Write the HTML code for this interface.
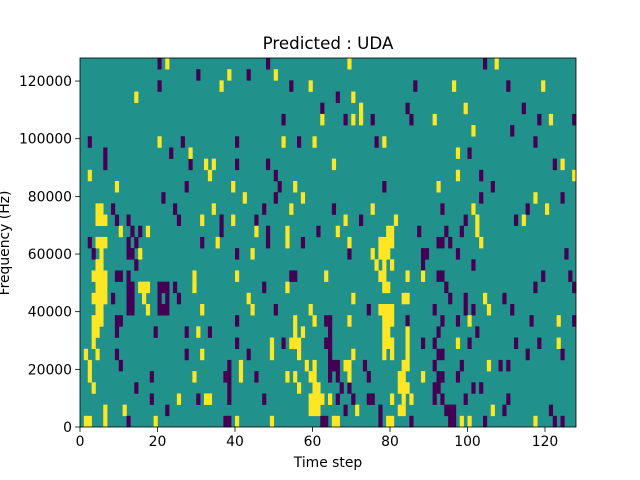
<!DOCTYPE html>
<html><head><meta charset="utf-8"><style>body{margin:0;background:#fff}svg{display:block;font-family:"DejaVu Sans","Liberation Sans",sans-serif}</style></head>
<body>
<svg id="chart" width="640" height="480">
<rect x="0" y="0" width="640" height="480" fill="#fff"/>
<text x="328" y="49" font-size="16.7" text-anchor="middle" fill="#000">Predicted : UDA</text>
<g id="cells"></g>
<g id="axes"></g>
<text x="328" y="467" font-size="13.9" text-anchor="middle">Time step</text>
<text transform="translate(9,243) rotate(-90)" font-size="13.9" text-anchor="middle">Frequency (Hz)</text>
</svg>
<script>
// rows listed from highest frequency bin (32) down to bin 0; entries are time steps
const nTime = 128;
const nBins = 33;
const freqMax = 128000;
const xTicks = [0, 20, 40, 60, 80, 100, 120];
const yTicks = [0, 20000, 40000, 60000, 80000, 100000, 120000];
const yTickLabels = ["0", "20000", "40000", "60000", "80000", "100000", "120000"];
const purpleRows = [
[20,48,104],[30,43],[20,54,86,110],[66],[62,84,114],[52,68,75,85,118,127],[111],
[2,26,40,56,76,117],[6,23,100],[6,28,40,48,122],[50,103],[27,51,78,106],[21,50,103,124],
[8,24,47,65,93,115],[9,12,25,36,45,72,99,112],[13,15,36,48,61,87,94,98],
[2,12,14,31,48,57,92,93,95],[3,12,13,40,69,88,89,97,125],[14,88,101],
[9,10,12,29,54,55,92,93,119,126],[12,13,20,21,22,24,47,94,117,127],
[8,12,13,20,22,25,95,99,109],[12,13,20,21,22,50,74,91,99,101,111],
[9,10,40,63,64,84,93,97,116,127],[9,19,27,33,64,92,102],[40,52,63,64,88,91,100,112,118],
[9,27,43,64,92,93,115,124],[10,38,64,65,66,73,91,98,108,110],[18,37,38,45,64,66,74,92,93,97],
[14,38,67,69,91,92,101,103],[18,30,38,47,66,70,74,75,91,93,99,110],
[22,68,77,94,95,96,109,121],[12,37,38,62,63,77,85,95,96,104,122,124]
];
const yellowRows = [
[22,69,107],[38,50],[36,59,96,119],[14,70],[72,99],[62,70,72,91,121],[101],
[20,52,60,78],[28,97],[32,34,65,124],[2,33,97,127],[9,39,55,92],[42,57,117],
[4,5,34,54,75,101,120],[4,5,6,31,39,68,81,102,114],[10,17,45,53,66,79,80,102],
[4,5,6,35,53,69,77,78,79,80,103],[5,15,44,75,77,78,79],[4,5,76,78,80],
[3,4,5,6,29,40,63,77,78,84,88],[4,5,6,15,16,17,29,53,78,79],
[3,4,5,6,16,43,70,83,84,104],[4,5,17,31,44,59,77,78,79,80,105],
[3,4,5,55,60,69,78,79,80,100,123],[3,4,30,55,57,78,79,84],
[3,49,54,55,56,78,79,80,84,97,123],[1,4,31,49,56,70,78,80,84],
[2,41,58,60,68,69,83,84,105],[2,29,41,53,55,59,60,69,82,83,88],
[3,56,60,61,82,83,84],[25,32,33,59,60,61,62,64,80,83,85],
[6,11,59,60,61,71,82,83,106],[1,2,6,19,40,49,65,66,79,80,98,100,117]
];
const X0=80,X1=576,Y0=427,Y1=58;
function xs(t){return X0+t*(X1-X0)/nTime;}
function ys(f){return Y0-f*(Y0-Y1)/freqMax;}
function binY(b){return Y0-(b+1)*(Y0-Y1)/nBins;}
const NS="http://www.w3.org/2000/svg";
const cells=document.getElementById('cells');
const bg=document.createElementNS(NS,'rect');
bg.setAttribute('x',X0);bg.setAttribute('y',Y1);bg.setAttribute('width',X1-X0);bg.setAttribute('height',Y0-Y1);bg.setAttribute('fill','#21918c');


cells.appendChild(bg);
const cw=(X1-X0)/nTime, ch=(Y0-Y1)/nBins;
function drawRows(rows,color,label){
  rows.forEach((times,i)=>{
    const b=nBins-1-i;
    times.forEach(t=>{
      const r=document.createElementNS(NS,'rect');
      r.setAttribute('x',xs(t));r.setAttribute('y',binY(b));
      r.setAttribute('width',cw+0.3);r.setAttribute('height',ch+0.3);r.setAttribute('fill',color);
      
      
      cells.appendChild(r);
    });
  });
}
drawRows(purpleRows,'#440154','cell-negative');
drawRows(yellowRows,'#fde725','cell-positive');
const axes=document.getElementById('axes');
const frame=document.createElementNS(NS,'rect');
frame.setAttribute('x',X0);frame.setAttribute('y',Y1);frame.setAttribute('width',X1-X0);frame.setAttribute('height',Y0-Y1);
frame.setAttribute('fill','none');frame.setAttribute('stroke','#000');frame.setAttribute('stroke-width','0.8');


axes.appendChild(frame);
xTicks.forEach(t=>{
  const x=xs(t);
  const l=document.createElementNS(NS,'line');
  l.setAttribute('x1',x);l.setAttribute('x2',x);l.setAttribute('y1',Y0);l.setAttribute('y2',Y0+4.9);l.setAttribute('stroke','#000');l.setAttribute('stroke-width','0.8');
  
  
  axes.appendChild(l);
  const tx=document.createElementNS(NS,'text');
  tx.setAttribute('x',x);tx.setAttribute('y',Y0+19);tx.setAttribute('font-size','13.9');tx.setAttribute('text-anchor','middle');
  tx.textContent=String(t);
  
  
  axes.appendChild(tx);
});
yTicks.forEach((v,i)=>{
  const y=ys(v);
  const l=document.createElementNS(NS,'line');
  l.setAttribute('x1',X0-4.9);l.setAttribute('x2',X0);l.setAttribute('y1',y);l.setAttribute('y2',y);l.setAttribute('stroke','#000');l.setAttribute('stroke-width','0.8');
  
  
  axes.appendChild(l);
  const tx=document.createElementNS(NS,'text');
  tx.setAttribute('x',X0-8);tx.setAttribute('y',y+5);tx.setAttribute('font-size','13.9');tx.setAttribute('text-anchor','end');
  tx.textContent=yTickLabels[i];
  
  
  axes.appendChild(tx);
});
</script>
</body></html>
